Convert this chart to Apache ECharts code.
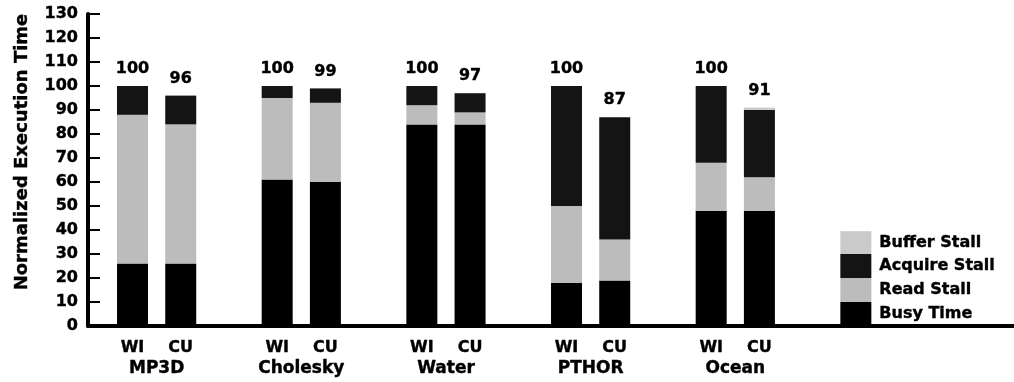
<!DOCTYPE html>
<html>
<head>
<meta charset="utf-8">
<script src="https://cdn.jsdelivr.net/npm/echarts@6/dist/echarts.min.js"></script>
<style>html,body{margin:0;padding:0;background:#fff}#c{width:1014px;height:382px}</style>
</head>
<body>
<div id="c"></div>
<script>
// ---- data ----
const groups = ["MP3D", "Cholesky", "Water", "PTHOR", "Ocean"];
const schemes = ["WI", "CU"];
const busyTime     = [26, 26, 61, 60, 84, 84, 18, 19, 48, 48];
const readStall    = [62, 58, 34, 33,  8,  5, 32, 17, 20, 14];
const acquireStall = [12, 12,  5,  6,  8,  8, 50, 51, 32, 28];
const bufferStall  = [ 0,  0,  0,  0,  0,  0,  0,  0,  0,  1];
const totals       = [100, 96, 100, 99, 100, 97, 100, 87, 100, 91];
const seriesNames  = ["Busy Time", "Read Stall", "Acquire Stall", "Buffer Stall"];
const keyValues    = [10, 10, 10, 9.5];   // the in-plot key bar
const yTicks = { min: 0, max: 130, step: 10 };

// ---- build slots: WI, CU, gap per group; key bar after groups ----
const slots = [];
const slotIndexOf = []; // bar index -> slot
groups.forEach((g, gi) => {
  schemes.forEach((s, si) => { slotIndexOf.push(slots.length); slots.push(s); });
  slots.push("");
});
const keySlot = slots.length;
slots.push(""); slots.push(""); slots.push("");

const F = "DejaVu Sans";
const TXT = { fontFamily: F, fontWeight: "bold", color: "#000", textBorderColor: "#000", textBorderWidth: 0.4 };
const valuesBySeries = [busyTime, readStall, acquireStall, bufferStall];
const colors = ["#000000", "#bcbcbc", "#141414", "#cacaca"];

const series = valuesBySeries.map((vals, k) => {
  const data = slots.map(() => null);
  vals.forEach((v, i) => { data[slotIndexOf[i]] = { value: v, barIdx: i }; });
  data[keySlot] = {
    value: keyValues[k],
    label: Object.assign({
      show: true, position: "right", distance: 8,
      formatter: seriesNames[k], fontSize: 16
    }, TXT)
  };
  return {
    name: seriesNames[k], type: "bar", stack: "t",
    xAxisIndex: 1, yAxisIndex: 1,
    barWidth: 31, data: data,
    itemStyle: { color: colors[k] },
    animation: false
  };
});
// total labels on top of each stack
const totalData = slots.map(() => null);
totals.forEach((t, i) => { totalData[slotIndexOf[i]] = { value: 0, total: t }; });
series.push({
  name: "total", type: "bar", stack: "t", xAxisIndex: 1, yAxisIndex: 1,
  barWidth: 31, data: totalData, itemStyle: { color: "transparent" },
  label: Object.assign({
    show: true, position: "top", distance: 9,
    formatter: p => p.data && p.data.total != null ? String(p.data.total) : "",
    fontSize: 16
  }, TXT),
  animation: false
});

const chart = echarts.init(document.getElementById("c"));
chart.setOption({
  animation: false,
  grid: [
    { left: 88, right: 0, top: 14, bottom: 56 },
    { left: 108.4, width: 868, top: 14, bottom: 56 },
    { left: 84.3, width: 868, top: 14, bottom: 56 }
  ],
  xAxis: [
    { gridIndex: 0, type: "value", min: 0, max: 1,
      axisLine: { show: true, onZero: false, lineStyle: { color: "#000", width: 4 } },
      axisTick: { show: false }, axisLabel: { show: false }, splitLine: { show: false } },
    { gridIndex: 1, type: "category", data: slots,
      axisLine: { show: false }, axisTick: { show: false },
      axisLabel: Object.assign({ interval: 0, margin: 14, fontSize: 16 }, TXT) },
    { gridIndex: 2, type: "category", data: groups.concat([""]),
      axisLine: { show: false }, axisTick: { show: false },
      axisLabel: Object.assign({ interval: 0, margin: 34, fontSize: 17 }, TXT) }
  ],
  yAxis: [
    { gridIndex: 0, type: "value", min: yTicks.min, max: yTicks.max, interval: yTicks.step,
      name: "Normalized Execution Time", nameLocation: "middle", nameGap: 57,
      nameTextStyle: Object.assign({ fontSize: 18, padding: [0, 0, 0, 36] }, TXT),
      axisLine: { show: true, lineStyle: { color: "#000", width: 4 } },
      axisTick: { show: true, inside: true, length: 12, lineStyle: { color: "#000", width: 2 } },
      axisLabel: Object.assign({ margin: 10, fontSize: 16 }, TXT),
      splitLine: { show: false } },
    { gridIndex: 1, type: "value", min: yTicks.min, max: yTicks.max, show: false, splitLine: { show: false } },
    { gridIndex: 2, type: "value", min: yTicks.min, max: yTicks.max, show: false, splitLine: { show: false } }
  ],
  series: series
});
</script>
</body>
</html>
